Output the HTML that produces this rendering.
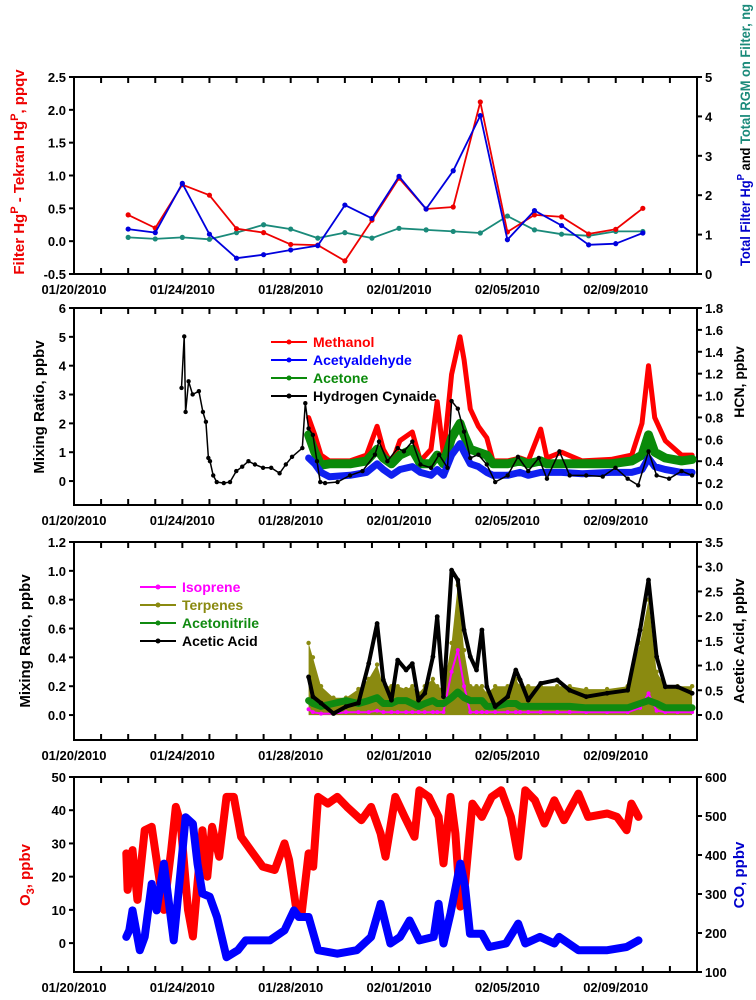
<!DOCTYPE html>
<html><head><meta charset="utf-8">
<style>
html,body{margin:0;padding:0;background:#fff;}
svg{display:block;font-family:"Liberation Sans",sans-serif;}
.tk{font-size:13px;font-weight:bold;fill:#000;}
.tt{font-size:15px;font-weight:bold;}
</style></head>
<body>
<svg id="chart" width="756" height="1000" viewBox="0 0 756 1000" xmlns="http://www.w3.org/2000/svg">
  <g id="axes"></g>
  <g id="marks"></g>
  <text class="tt" transform="translate(24,172) rotate(-90)" text-anchor="middle" fill="#e00" font-size="16">Filter Hg<tspan dy="-6" font-size="11">P</tspan><tspan dy="6"> - Tekran Hg</tspan><tspan dy="-6" font-size="11">P</tspan><tspan dy="6">,  ppqv</tspan></text>
  <text class="tt" transform="translate(750,266) rotate(-90)" text-anchor="start" textLength="262" lengthAdjust="spacingAndGlyphs" style="font-size:13.5px"><tspan fill="#00c">Total Filter Hg</tspan><tspan fill="#00c" dy="-6" font-size="10">P</tspan><tspan fill="#000" dy="6"> and </tspan><tspan fill="#1a8a7a">Total RGM on Filter, ng</tspan></text>
  <text class="tt" transform="translate(44,407) rotate(-90)" text-anchor="middle" fill="#000">Mixing Ratio, ppbv</text>
  <text class="tt" transform="translate(744,382) rotate(-90)" text-anchor="middle" fill="#000" style="font-size:14px">HCN, ppbv</text>
  <text class="tt" transform="translate(30,641) rotate(-90)" text-anchor="middle" fill="#000">Mixing Ratio, ppbv</text>
  <text class="tt" transform="translate(744,641) rotate(-90)" text-anchor="middle" fill="#000">Acetic Acid, ppbv</text>
  <text class="tt" transform="translate(30,875) rotate(-90)" text-anchor="middle" fill="#e00">O<tspan dy="4" font-size="11">3</tspan><tspan dy="-4">, ppbv</tspan></text>
  <text class="tt" transform="translate(744,875) rotate(-90)" text-anchor="middle" fill="#00c">CO, ppbv</text>
</svg>
<script>
// ---------- Data ----------
const dateLabels = ["01/20/2010","01/24/2010","01/28/2010","02/01/2010","02/05/2010","02/09/2010"];
// Panel 1 (daily, Jan 22 .. Feb 10)
const p1Days = [2,3,4,5,6,7,8,9,10,11,12,13,14,15,16,17,18,19,20,21];
const p1Diff = [0.40,0.20,0.86,0.70,0.19,0.13,-0.05,-0.06,-0.30,0.32,0.96,0.49,0.52,2.12,0.14,0.40,0.37,0.11,0.18,0.50];
const p1HgP = [1.14,1.05,2.30,1.01,0.40,0.49,0.61,0.72,1.75,1.41,2.48,1.65,2.62,4.02,0.87,1.61,1.23,0.74,0.77,1.04];
const p1RGM = [0.93,0.89,0.93,0.88,1.05,1.25,1.14,0.91,1.05,0.91,1.16,1.12,1.08,1.04,1.47,1.12,1.01,0.97,1.08,1.08];
// Panel 2
const hcnDays = [3.97,4.07,4.12,4.23,4.38,4.61,4.76,4.87,4.96,5.02,5.14,5.27,5.53,5.76,5.99,6.21,6.44,6.68,6.98,7.28,7.59,7.82,8.05,8.43,8.54,8.66,8.82,8.97,9.09,9.27,9.73,10.19,10.65,11.11,11.26,11.57,11.95,12.18,12.49,12.79,13.18,13.48,13.79,13.94,14.17,14.40,14.63,14.93,15.24,15.55,16.01,16.39,16.77,17.16,17.46,17.92,18.30,18.91,19.52,19.99,20.44,20.83,21.21,21.51,21.97,22.43,22.82];
const hcnVals = [1.07,1.54,0.85,1.13,1.01,1.04,0.85,0.76,0.43,0.40,0.27,0.21,0.20,0.21,0.31,0.35,0.40,0.37,0.34,0.34,0.29,0.37,0.44,0.52,0.93,0.70,0.64,0.40,0.21,0.20,0.21,0.27,0.31,0.46,0.58,0.40,0.52,0.49,0.58,0.37,0.34,0.46,0.34,0.95,0.88,0.67,0.43,0.46,0.37,0.21,0.27,0.44,0.31,0.43,0.24,0.49,0.27,0.27,0.26,0.34,0.24,0.18,0.49,0.27,0.24,0.31,0.27];
const vocDays = [8.66,8.89,9.12,9.43,10.19,10.80,11.19,11.42,11.72,12.03,12.49,12.79,13.18,13.41,13.64,13.94,14.25,14.40,14.63,14.93,15.24,15.47,16.01,16.47,16.77,17.23,17.46,18.00,18.76,19.83,20.59,20.97,21.21,21.44,21.83,22.43,22.82];
const methanol = [2.2,1.6,0.9,0.7,0.7,0.9,1.9,1.1,0.6,1.4,1.7,0.7,1.1,2.75,0.9,3.7,5.0,4.2,2.5,1.9,1.5,0.7,0.7,0.8,0.7,1.8,0.8,1.0,0.7,0.75,0.9,2.0,4.0,2.2,1.4,0.9,0.9];
const acetone = [1.6,1.0,0.55,0.6,0.6,0.7,1.1,0.8,0.6,0.9,1.1,0.6,0.6,0.9,0.6,1.5,2.0,1.6,1.1,1.0,0.9,0.6,0.6,0.7,0.6,0.7,0.6,0.6,0.6,0.6,0.7,0.9,1.6,1.0,0.8,0.7,0.75];
const acetaldehyde = [0.8,0.6,0.3,0.15,0.2,0.3,0.6,0.4,0.2,0.4,0.5,0.3,0.2,0.4,0.2,0.9,1.3,1.0,0.6,0.5,0.3,0.2,0.2,0.3,0.2,0.3,0.3,0.3,0.25,0.3,0.3,0.4,0.8,0.5,0.4,0.3,0.3];
// Panel 3
const p3Days = [8.66,8.82,9.12,9.58,10.04,10.50,10.88,11.19,11.42,11.72,11.95,12.26,12.49,12.72,12.95,13.25,13.41,13.64,13.94,14.17,14.40,14.63,14.86,15.06,15.24,15.55,16.01,16.31,16.47,16.77,17.23,17.84,18.30,18.91,19.68,20.44,20.90,21.21,21.51,21.83,22.28,22.82];
const aceticAcid = [0.77,0.37,0.24,0.03,0.17,0.24,1.04,1.85,0.71,0.30,1.11,0.91,1.04,0.30,0.44,1.18,1.99,0.37,2.93,2.73,1.72,1.18,0.91,1.72,0.57,0.17,0.37,0.91,0.71,0.30,0.64,0.71,0.50,0.37,0.44,0.50,1.72,2.73,1.18,0.57,0.57,0.44];
const terpenes = [0.5,0.4,0.2,0.12,0.12,0.18,0.25,0.35,0.2,0.2,0.2,0.18,0.2,0.15,0.2,0.25,0.2,0.18,0.5,0.9,0.45,0.2,0.2,0.2,0.15,0.2,0.2,0.25,0.2,0.2,0.2,0.2,0.2,0.18,0.18,0.2,0.5,0.8,0.3,0.2,0.2,0.2];
const acetonitrile = [0.1,0.08,0.06,0.08,0.1,0.08,0.1,0.12,0.08,0.08,0.1,0.1,0.08,0.06,0.08,0.1,0.08,0.08,0.12,0.16,0.12,0.1,0.1,0.1,0.06,0.06,0.08,0.08,0.06,0.06,0.06,0.06,0.06,0.05,0.05,0.05,0.08,0.1,0.08,0.05,0.05,0.05];
const isoprene = [0.04,0.02,0.01,0.01,0.02,0.02,0.02,0.03,0.02,0.02,0.02,0.02,0.02,0.02,0.02,0.02,0.02,0.02,0.3,0.45,0.2,0.02,0.02,0.02,0.02,0.02,0.02,0.02,0.02,0.02,0.02,0.02,0.02,0.02,0.02,0.02,0.05,0.15,0.03,0.02,0.02,0.02];
// Panel 4
const o3Days = [1.93,1.98,2.16,2.34,2.61,2.87,3.05,3.32,3.59,3.76,3.94,4.21,4.39,4.56,4.74,4.92,5.10,5.36,5.63,5.90,6.17,6.52,6.97,7.41,7.77,7.94,8.21,8.39,8.66,8.83,9.01,9.37,9.72,10.08,10.61,10.97,11.32,11.50,11.86,12.21,12.57,12.75,13.10,13.46,13.64,13.90,14.08,14.26,14.44,14.71,15.06,15.42,15.77,16.13,16.40,16.66,17.02,17.37,17.73,18.09,18.62,18.98,19.69,20.05,20.40,20.58,20.84];
const o3Vals = [27,16,28,13,34,35,25,10,28,41,36,10,2,18,34,20,35,26,44,44,32,28,23,22,30,25,10,8,27,23,44,42,44,41,37,41,33,26,44,38,32,46,44,38,24,44,33,11,18,42,38,44,46,38,26,46,43,36,43,37,45,38,39,38,34,42,38];
const coDays = [1.93,2.04,2.16,2.43,2.61,2.87,3.05,3.32,3.68,3.94,4.12,4.39,4.56,4.74,5.01,5.28,5.63,6.05,6.34,6.70,7.23,7.77,8.12,8.30,8.66,9.01,9.72,10.44,10.97,11.32,11.68,12.04,12.39,12.75,13.28,13.46,13.64,13.90,14.26,14.44,14.62,15.06,15.33,15.95,16.40,16.66,17.20,17.73,17.91,18.62,19.69,20.40,20.84];
const coVals = [190,207,258,156,190,326,258,378,181,361,497,480,378,301,293,241,138,156,181,181,181,207,258,241,241,156,147,156,190,275,173,190,232,181,190,275,173,250,378,318,198,198,164,173,224,173,190,173,190,156,156,164,181];

// ---------- Layout ----------
const L = 74, R = 697, DAYS = 23;
const X = d => L + (R - L) * d / DAYS;
const NS = "http://www.w3.org/2000/svg";
const axes = document.getElementById('axes');
const marks = document.getElementById('marks');
function el(tag, attrs, parent) {
  const e = document.createElementNS(NS, tag);
  for (const k in attrs) e.setAttribute(k, attrs[k]);
  parent.appendChild(e);
  return e;
}
function scale(top, bot, min, max) { return v => bot - (v - min) / (max - min) * (bot - top); }

const panels = [
  {id:'panel1', top:77, bot:274, lmin:-0.5, lmax:2.5, lticks:[-0.5,0,0.5,1,1.5,2,2.5], ldec:1, rmin:0, rmax:5, rticks:[0,1,2,3,4,5], rdec:0},
  {id:'panel2', top:308, bot:505, lmin:-0.83, lmax:6, lticks:[0,1,2,3,4,5,6], ldec:0, rmin:0, rmax:1.8, rticks:[0,0.2,0.4,0.6,0.8,1.0,1.2,1.4,1.6,1.8], rdec:1},
  {id:'panel3', top:542, bot:740, lmin:-0.173, lmax:1.2, lticks:[0,0.2,0.4,0.6,0.8,1.0,1.2], ldec:1, rmin:-0.506, rmax:3.5, rticks:[0,0.5,1,1.5,2,2.5,3,3.5], rdec:1},
  {id:'panel4', top:777, bot:972, lmin:-8.7, lmax:50, lticks:[0,10,20,30,40,50], ldec:0, rmin:100, rmax:600, rticks:[100,200,300,400,500,600], rdec:0}
];

panels.forEach(p => {
  const g = el('g', {}, axes);
  
  
  const fr = el('rect', {x:L, y:p.top, width:R-L, height:p.bot-p.top, fill:'none', stroke:'#000', 'stroke-width':2}, g);
  
  
  for (let d = 1; d < DAYS; d++) {
    const x = X(d);
    el('line', {x1:x, x2:x, y1:p.top, y2:p.top+6, stroke:'#000', 'stroke-width':2}, g);
    el('line', {x1:x, x2:x, y1:p.bot, y2:p.bot-6, stroke:'#000', 'stroke-width':2}, g);
  }
  dateLabels.forEach((lab, i) => {
    const t = el('text', {x:X(i*4), y:p.bot+20, 'text-anchor':'middle', class:'tk'}, g);
    t.textContent = lab;
    
    
  });
  const ly = scale(p.top, p.bot, p.lmin, p.lmax);
  const ry = scale(p.top, p.bot, p.rmin, p.rmax);
  p.ly = ly; p.ry = ry;
  p.lticks.forEach(v => {
    el('line', {x1:L-5, x2:L, y1:ly(v), y2:ly(v), stroke:'#000', 'stroke-width':2}, g);
    const t = el('text', {x:L-8, y:ly(v)+5, 'text-anchor':'end', class:'tk'}, g);
    t.textContent = v.toFixed(p.ldec);
    
    
  });
  p.rticks.forEach(v => {
    el('line', {x1:R, x2:R+5, y1:ry(v), y2:ry(v), stroke:'#000', 'stroke-width':2}, g);
    const t = el('text', {x:R+8, y:ry(v)+5, 'text-anchor':'start', class:'tk'}, g);
    t.textContent = v.toFixed(p.rdec);
    
    
  });
});

function series(days, vals, yf, color, width, dotR, name) {
  const g = el('g', {}, marks);
  
  
  const pts = days.map((d, i) => X(d).toFixed(1) + ',' + yf(vals[i]).toFixed(1)).join(' ');
  el('polyline', {points:pts, fill:'none', stroke:color, 'stroke-width':width, 'stroke-linejoin':'round', 'stroke-linecap':'round'}, g);
  if (dotR > 0) days.forEach((d, i) => el('circle', {cx:X(d), cy:yf(vals[i]), r:dotR, fill:color}, g));
  return g;
}
function area(days, vals, yf, base, color, name) {
  const g = el('g', {}, marks);
  
  
  let pts = days.map((d, i) => X(d).toFixed(1) + ',' + yf(vals[i]).toFixed(1));
  pts.push(X(days[days.length-1]).toFixed(1) + ',' + yf(base).toFixed(1));
  pts.push(X(days[0]).toFixed(1) + ',' + yf(base).toFixed(1));
  el('polygon', {points:pts.join(' '), fill:color}, g);
  days.forEach((d, i) => el('circle', {cx:X(d), cy:yf(vals[i]), r:2.2, fill:color}, g));
  return g;
}

const [P1, P2, P3, P4] = panels;
// Panel 1
series(p1Days, p1RGM, P1.ry, '#1a8a7a', 1.8, 2.6, 'rgm-series');
series(p1Days, p1Diff, P1.ly, '#e00', 1.8, 2.6, 'filter-minus-tekran-series');
series(p1Days, p1HgP, P1.ry, '#00d', 1.8, 2.6, 'total-filter-hgp-series');
// Panel 2
series(vocDays, methanol, P2.ly, '#f00', 5, 2.2, 'methanol-series');
series(vocDays, acetone, P2.ly, '#0a8a0a', 9, 0, 'acetone-series');
series(vocDays, acetaldehyde, P2.ly, '#1020f0', 7, 0, 'acetaldehyde-series');
series(hcnDays, hcnVals, P2.ry, '#000', 1.5, 2.2, 'hcn-series');
// Panel 3
area(p3Days, terpenes, P3.ly, 0, '#8a8a10', 'terpenes-series');
series(p3Days, isoprene, P3.ly, '#f0f', 2, 2, 'isoprene-series');
series(p3Days, acetonitrile, P3.ly, '#108a10', 7, 0, 'acetonitrile-series');
series(p3Days, aceticAcid, P3.ry, '#000', 4, 2.4, 'acetic-acid-series');
// Panel 4
series(o3Days, o3Vals, P4.ly, '#f00', 8, 0, 'o3-series');
series(coDays, coVals, P4.ry, '#00f', 8, 0, 'co-series');

// Legends
function legend(items, x, y0, dy, name) {
  const g = el('g', {}, marks);
  
  
  items.forEach((it, i) => {
    const y = y0 + i * dy;
    const e = el('g', {}, g);
    
    
    el('line', {x1:x, x2:x+36, y1:y, y2:y, stroke:it[1], 'stroke-width':2}, e);
    el('circle', {cx:x+18, cy:y, r:2.5, fill:it[1]}, e);
    const t = el('text', {x:x+42, y:y+5, 'font-size':'14px', 'font-weight':'bold', fill:it[2]}, e);
    t.textContent = it[0];
  });
}
legend([['Methanol','#f00','#f00'],['Acetyaldehyde','#00f','#00f'],['Acetone','#0a8a0a','#0a8a0a'],['Hydrogen Cynaide','#000','#000']], 271, 342, 18, 'panel2-legend');
legend([['Isoprene','#f0f','#f0f'],['Terpenes','#8a8a10','#8a8a10'],['Acetonitrile','#108a10','#108a10'],['Acetic Acid','#000','#000']], 140, 587, 18, 'panel3-legend');
</script>
</body></html>
